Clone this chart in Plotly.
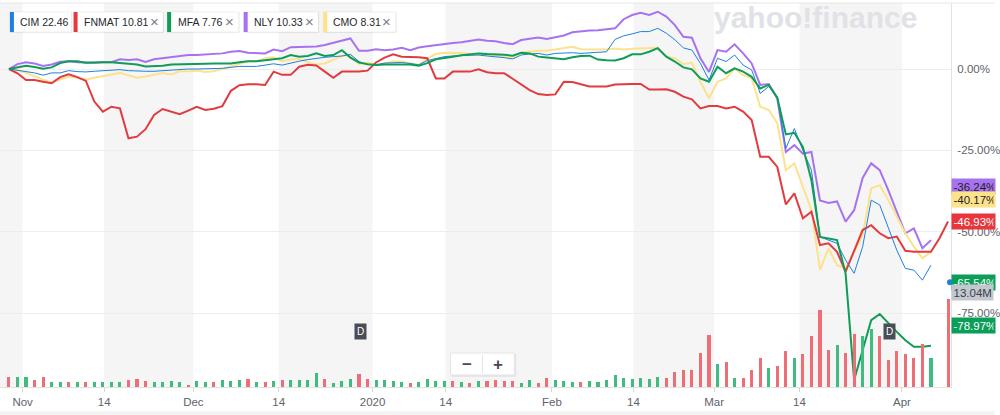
import plotly.graph_objects as go
import pandas as pd

# ---------------- data ----------------
HOLIDAYS = ["2019-11-28", "2019-12-25", "2020-01-01", "2020-01-20", "2020-02-17"]
DATES = [d.strftime("%Y-%m-%d") for d in pd.bdate_range("2019-10-30", "2020-04-08")
         if d.strftime("%Y-%m-%d") not in HOLIDAYS]

TICK_DATES = ["2019-11-01", "2019-11-14", "2019-12-01", "2019-12-14", "2020-01-01", "2020-01-14",
              "2020-02-01", "2020-02-14", "2020-03-01", "2020-03-14", "2020-04-01"]
TICK_TEXT = ["Nov", "14", "Dec", "14", "2020", "14", "Feb", "14", "Mar", "14", "Apr"]

Y_TICKS = [0, -25, -50, -75]
Y_TICK_TEXT = ["0.00%", "-25.00%", "-50.00%", "-75.00%"]

CIM = [0, -0.4, -0.7, -1.2, -1.9, -1.2, -1.2, -0.5, -0.8, -0.9,
       -0.7, -0.5, -0.4, -0.2, -0.5, -0.7, -0.7, -0.7, -0.5, -0.2,
       -0.2, 0.0, 0.0, 0.0, 0.2, 0.2, 0.5, 0.8, 0.8, 0.8,
       1.2, 1.6, 1.2, 1.9, 2.4, 2.9, 3.3, 3.6, 3.8, 4.0,
       4.5, 2.3, 1.3, 1.3, 1.8, 2.0, 2.0, 1.7, 1.3, 2.6,
       3.3, 3.8, 4.0, 4.1, 4.3, 4.3, 4.0, 3.8, 3.5, 3.1,
       4.3, 4.6, 4.8, 4.3, 4.8, 4.9, 5.0, 4.8, 5.0, 5.1,
       5.3, 9.1, 10.2, 10.8, 11.5, 11.5, 12.5, 11.0, 9.0, 6.5,
       5.8, 1.7, -3.4, 3.3, 2.3, 4.3, 1.2, -0.3, -7.5, -5.4,
       -8.5, -24.4, -18.3, -25.0, -31.1, -51.6, -52.6, -53.6, -58.7, -62.8,
       -54.6, -40.3, -41.8, -48.5, -55.7, -61.3, -61.8, -64.9, -60.3]

FNMAT = [0, -1.3, -3.4, -3.4, -3.9, -4.4, -2.5, -1.6, -2.5, -3.6,
         -10.0, -13.1, -11.6, -12.1, -21.3, -20.8, -18.5, -14.1, -12.3, -13.1,
         -13.9, -12.8, -11.6, -12.6, -12.2, -11.4, -6.7, -5.0, -4.7, -4.7,
         -4.9, -0.8, -1.8, -1.8, 0.7, 1.3, 1.1, -0.8, -2.7, -0.8,
         -0.8, -0.8, -0.5, 2.0, 3.5, 4.5, 3.8, 3.8, 3.6, 3.3,
         -2.9, -2.9, -0.8, -0.8, -0.8, -0.1, -1.0, -1.3, -1.3, -3.0,
         -4.8, -6.5, -7.7, -8.0, -7.8, -3.9, -4.0, -4.7, -5.4, -5.4,
         -5.4, -4.8, -4.6, -4.6, -4.6, -6.3, -6.3, -6.2, -7.0, -8.5,
         -9.3, -12.1, -11.4, -11.4, -12.1, -11.6, -13.1, -15.7, -27.0, -27.0,
         -30.1, -41.6, -38.2, -45.9, -43.9, -54.1, -53.6, -56.2, -62.3, -55.7,
         -49.5, -48.0, -50.5, -52.0, -51.5, -55.9, -56.2, -56.2, -56.2, -52.0, -46.9]

MFA = [0, 0.5, 1.0, 0.6, 0.1, 0.5, 1.8, 2.4, 2.4, 1.9,
       2.1, 2.1, 2.1, 1.8, 1.6, 1.4, 0.8, 0.8, 1.0, 1.4,
       1.4, 1.6, 1.4, 1.6, 1.7, 1.8, 1.7, 2.1, 2.4, 2.4,
       2.8, 3.0, 3.3, 4.3, 3.8, 4.0, 4.8, 4.0, 4.3, 5.8,
       3.5, 2.0, 1.5, 1.2, 1.4, 1.4, 1.4, 1.4, 1.0, 1.8,
       3.0, 3.5, 3.8, 4.2, 4.6, 4.8, 4.6, 4.6, 4.4, 4.1,
       5.0, 4.8, 3.8, 3.5, 3.3, 3.0, 3.6, 4.0, 4.1, 2.9,
       2.7, 2.6, 3.3, 4.5, 4.5, 5.3, 6.4, 3.8, 2.3, 0.5,
       -0.1, -2.9, -3.9, 0.7, -1.3, 0.2, -0.8, -2.4, -6.0, -4.9,
       -8.8, -20.1, -19.6, -24.0, -34.2, -51.6, -52.1, -52.6, -62.8, -95.6,
       -86.4, -77.2, -75.3, -78.2, -80.8, -83.4, -85.4, -85.4, -85.1]

NLY = [0, 1.5, 2.1, 1.7, 0.9, 1.4, 2.2, 2.4, 2.1, 1.9,
       1.9, 2.1, 2.1, 3.0, 2.8, 3.0, 2.2, 3.0, 3.3, 3.6,
       4.0, 4.3, 4.3, 4.5, 4.5, 4.8, 5.3, 5.5, 5.0, 5.0,
       4.8, 6.0, 5.5, 6.7, 6.7, 6.7, 6.9, 7.4, 8.1, 8.9,
       9.4, 5.6, 5.6, 6.1, 5.8, 6.0, 6.5, 5.8, 6.6, 7.0,
       7.4, 7.7, 8.0, 8.2, 8.7, 9.1, 8.7, 8.5, 8.0, 7.6,
       8.9, 9.4, 9.7, 9.2, 9.8, 10.3, 11.3, 11.6, 11.8, 11.9,
       12.1, 12.5, 15.3, 16.6, 17.3, 16.6, 17.6, 16.1, 13.5, 9.9,
       9.6, 3.3, -0.9, 5.8, 5.3, 7.6, 4.8, 1.7, -4.9, -4.6,
       -9.1, -25.5, -23.4, -26.0, -25.5, -40.4, -41.2, -40.7, -46.9, -43.4,
       -33.5, -29.0, -31.1, -37.2, -43.9, -50.5, -49.0, -55.1, -52.6]

CMO = [0, -0.4, -1.2, -2.3, -3.3, -4.1, -3.1, -2.3, -2.7, -3.3,
       -2.7, -2.3, -1.7, -1.2, -2.0, -2.7, -2.3, -1.7, -1.2, -1.7,
       -0.7, -0.7, -0.5, -0.9, -0.7, 0.0, 0.8, 1.8, 2.4, 2.4,
       3.3, 3.6, 2.4, 2.9, 3.1, 2.1, 1.4, 1.7, 2.9, 4.0,
       4.3, 1.5, 2.0, 1.2, 1.8, 2.3, 2.3, 1.8, 1.2, 3.2,
       4.6, 5.0, 5.0, 4.9, 4.6, 4.3, 4.3, 4.2, 3.8, 3.5,
       5.1, 5.4, 5.6, 5.6, 6.0, 6.4, 6.8, 6.1, 6.0, 6.0,
       6.0, 6.3, 6.0, 6.2, 6.3, 6.5, 6.5, 3.8, 3.3, 1.5,
       1.9, -4.0, -9.0, -3.9, -2.9, 0.2, -1.9, -2.9, -11.6, -12.6,
       -16.7, -31.1, -29.0, -36.2, -43.4, -61.8, -55.1, -60.3, -61.3, -56.2,
       -51.0, -36.7, -35.7, -40.3, -45.4, -50.5, -54.6, -58.2, -56.2]

# CIM volume, millions of shares; 1 = up day (green), 0 = down day (red)
VOLUME_M = [1.48, 1.41, 1.48, 1.11, 1.48, 0.81, 0.67, 0.67, 0.67, 0.67,
            0.67, 0.67, 0.67, 0.81, 1.11, 1.26, 0.96, 0.81, 0.81, 0.96,
            0.81, 0.37, 0.96, 0.81, 0.81, 1.11, 0.96, 1.11, 1.26, 0.67,
            0.81, 0.96, 1.11, 1.11, 1.11, 1.11, 2.07, 1.26, 0.59, 0.96,
            1.26, 2.00, 1.26, 1.08, 1.11, 0.93, 0.70, 0.62, 0.81, 1.16,
            0.86, 0.96, 0.96, 0.81, 0.62, 0.93, 0.96, 0.99, 0.84, 0.84,
            0.64, 0.99, 0.64, 1.33, 0.99, 0.89, 0.74, 0.74, 0.89, 0.74,
            1.04, 1.78, 1.33, 1.19, 1.33, 1.19, 1.48, 1.33, 2.22, 2.47,
            2.47, 5.04, 7.70, 3.41, 3.70, 1.33, 1.33, 2.52, 4.30, 2.81,
            3.11, 5.33, 4.30, 4.89, 7.56, 11.41, 5.48, 6.22, 5.04, 7.85,
            7.56, 8.59, 7.56, 4.00, 5.33, 4.89, 4.30, 6.37, 4.30, None, 13.04]
VOLUME_UP = [0, 1, 1, 0, 0, 1, 1, 0, 1, 0,
             1, 1, 1, 1, 0, 0, 0, 1, 1, 1,
             1, 0, 1, 1, 0, 1, 1, 1, 0, 1,
             0, 1, 0, 1, 1, 1, 1, 0, 1, 1,
             1, 0, 0, 1, 1, 1, 1, 0, 1, 1,
             1, 1, 0, 1, 0, 1, 0, 0, 0, 0,
             1, 1, 0, 0, 1, 1, 1, 0, 1, 1,
             1, 1, 1, 1, 1, 1, 1, 0, 0, 0,
             0, 0, 0, 1, 0, 1, 0, 0, 0, 1,
             0, 0, 1, 0, 0, 0, 0, 1, 0, 0,
             1, 1, 0, 0, 0, 0, 0, 0, 1, 0, 0]

LEGEND_SYMBOLS = ["CIM", "FNMAT", "MFA", "NLY", "CMO"]
LEGEND_PRICES = ["22.46", "10.81", "7.76", "10.33", "8.31"]

TAG_VALUES = {"NLY": -36.24, "CMO": -40.17, "FNMAT": -46.93, "CIM": -65.54, "MFA": -78.97}
TAG_VOLUME_M = 13.04
DIVIDEND_DATES = ["2019-12-30", "2020-03-30"]

# ---------------- styling ----------------
FONT = "Liberation Sans, Arial, sans-serif"
C_CIM, C_FNMAT, C_MFA, C_NLY, C_CMO = "#1E80E0", "#E23B3F", "#0E9C57", "#A772F0", "#FDE28C"
C_UP, C_DOWN = "#40BC80", "#EF6E76"
GREY_BAND = "#F5F5F5"

W, H = 1000, 415
L, R, T, B = 0, 44, 3, 28
PW, PH = W - L - R, H - T - B
PX_PER_IDX = 8.582
X0_PX = 9.0


def px_x(x):
    return (x - L) / PW


def px_y(y):
    return (T + PH - y) / PH


IDX = list(range(len(DATES)))
pos = {d: i for i, d in enumerate(DATES)}


def tick_pos(d):
    first = next(i for i, dd in enumerate(DATES) if dd >= d)
    if d[-2:] == "01" or d not in pos:
        return first - 0.4
    return first + 0.15


TICK_VALS = [tick_pos(d) for d in TICK_DATES]
x_range = [-X0_PX / PX_PER_IDX, (PW - X0_PX) / PX_PER_IDX]
y_range = [-(387 - 69) / 3.2533, (69 - 3) / 3.2533]

fig = go.Figure()

fig.add_trace(go.Bar(
    x=IDX, y=VOLUME_M, yaxis="y2", width=0.36,
    marker=dict(color=[C_UP if u else C_DOWN for u in VOLUME_UP], line_width=0),
    showlegend=False, hoverinfo="skip"))

for name, vals, col, w in [("NLY", NLY, C_NLY, 2), ("CMO", CMO, C_CMO, 2),
                           ("FNMAT", FNMAT, C_FNMAT, 2), ("CIM", CIM, C_CIM, 1),
                           ("MFA", MFA, C_MFA, 2)]:
    fig.add_trace(go.Scatter(x=IDX[:len(vals)], y=vals, mode="lines", name=name,
                             line=dict(color=col, width=w), showlegend=False))

shapes = []
annotations = []
# alternating bands between ticks
bounds = [x_range[0]] + TICK_VALS + [x_range[1]]
for k in range(0, len(bounds) - 1, 2):
    shapes.append(dict(type="rect", xref="x", yref="paper", x0=bounds[k], x1=bounds[k + 1],
                       y0=0, y1=1, fillcolor=GREY_BAND, line_width=0, layer="below"))
# top border and bottom strip
shapes.append(dict(type="line", xref="paper", yref="paper", x0=0, x1=W / PW, y0=1, y1=1,
                   line=dict(color="#E6E6E6", width=1)))
shapes.append(dict(type="rect", xref="paper", yref="paper", x0=0, x1=W / PW,
                   y0=px_y(415), y1=px_y(411), fillcolor="#F4F4F4", line_width=0))

# watermark (drawn first so other annotations sit above)
annotations.append(dict(xref="paper", yref="paper", x=px_x(820), y=px_y(17),
                        xanchor="center", yanchor="middle", showarrow=False,
                        text="<b>yahoo!finance</b>",
                        font=dict(family=FONT, size=30, color="#E0E2E7")))

# legend chips
chip_geo = [(10, 72, 18), (74, 164, 82), (168, 240, 177), (245, 320, 253), (325, 398, 333)]
chip_cols = [C_CIM, C_FNMAT, C_MFA, C_NLY, C_CMO]
for k, ((x0, x1, tx), col) in enumerate(zip(chip_geo, chip_cols)):
    shapes.append(dict(type="rect", xref="paper", yref="paper", x0=px_x(x0), x1=px_x(x1 + 1),
                       y0=px_y(33), y1=px_y(12), fillcolor="rgba(0,0,0,0.05)", line_width=0))
    shapes.append(dict(type="rect", xref="paper", yref="paper", x0=px_x(x0), x1=px_x(x1),
                       y0=px_y(32), y1=px_y(12), fillcolor="white",
                       line=dict(color="rgba(0,0,0,0.06)", width=1)))
    shapes.append(dict(type="rect", xref="paper", yref="paper", x0=px_x(x0), x1=px_x(x0 + 4),
                       y0=px_y(32), y1=px_y(12), fillcolor=col, line_width=0))
    annotations.append(dict(xref="paper", yref="paper", x=px_x(tx), y=px_y(22), xanchor="left",
                            yanchor="middle", showarrow=False,
                            text=f"{LEGEND_SYMBOLS[k]} {LEGEND_PRICES[k]}",
                            font=dict(family=FONT, size=10.5, color="#26282C")))
    if k > 0:
        annotations.append(dict(xref="paper", yref="paper", x=px_x(x1 - 9), y=px_y(22),
                                xanchor="center", yanchor="middle", showarrow=False, text="×",
                                font=dict(family=FONT, size=15, color="#7A7E85")))

# zoom buttons
shapes.append(dict(type="rect", xref="paper", yref="paper", x0=px_x(454), x1=px_x(519),
                   y0=px_y(377), y1=px_y(354), fillcolor="rgba(0,0,0,0.06)", line_width=0))
shapes.append(dict(type="rect", xref="paper", yref="paper", x0=px_x(453), x1=px_x(517),
                   y0=px_y(375), y1=px_y(353), fillcolor="white",
                   line=dict(color="#E4E4E4", width=1)))
shapes.append(dict(type="line", xref="paper", yref="paper", x0=px_x(485), x1=px_x(485),
                   y0=px_y(373), y1=px_y(355), line=dict(color="#E4E4E4", width=1)))
annotations.append(dict(xref="paper", yref="paper", x=px_x(469), y=px_y(364),
                        xanchor="center", yanchor="middle", showarrow=False,
                        text="<b>−</b>", font=dict(family=FONT, size=17, color="#464B55")))
annotations.append(dict(xref="paper", yref="paper", x=px_x(501), y=px_y(364),
                        xanchor="center", yanchor="middle", showarrow=False,
                        text="<b>+</b>", font=dict(family=FONT, size=17, color="#464B55")))

# dividend markers
for d in DIVIDEND_DATES:
    annotations.append(dict(xref="x", yref="paper", x=pos[d] + 0.2, y=px_y(331.5),
                            xanchor="center", yanchor="middle", showarrow=False,
                            text="D", bgcolor="#484D56", borderpad=2,
                            font=dict(family=FONT, size=10, color="white")))

# right-side value tags
tag_style = {"NLY": (C_NLY, "#1E1E1E"), "CMO": (C_CMO, "#1E1E1E"), "FNMAT": ("#E8363C", "white"),
             "CIM": ("#0A9E58", "white"), "MFA": ("#0A9E58", "white")}
shapes.append(dict(type="circle", xref="paper", yref="y", x0=px_x(952), x1=px_x(958),
                   y0=TAG_VALUES["CIM"] - 0.92, y1=TAG_VALUES["CIM"] + 0.92,
                   fillcolor=C_CIM, line_width=0))
for name in ["NLY", "CMO", "FNMAT", "CIM"]:
    bg, fg = tag_style[name]
    annotations.append(dict(xref="paper", yref="y", x=px_x(956), y=TAG_VALUES[name],
                            xanchor="left", yanchor="middle", showarrow=False,
                            text=f"{TAG_VALUES[name]:.2f}%", bgcolor=bg, borderpad=1.5,
                            width=40, align="left",
                            font=dict(family=FONT, size=11.5, color=fg)))
annotations.append(dict(xref="paper", yref="y2", x=px_x(956), y=TAG_VOLUME_M, yshift=6,
                        xanchor="left", yanchor="middle", showarrow=False,
                        text=f"{TAG_VOLUME_M:.2f}M", bgcolor="#C4C8CE", borderpad=1.5,
                        width=38, align="left", font=dict(family=FONT, size=11.5, color="#3A3F47")))
bg, fg = tag_style["MFA"]
annotations.append(dict(xref="paper", yref="y", x=px_x(956), y=TAG_VALUES["MFA"],
                        xanchor="left", yanchor="middle", showarrow=False,
                        text=f"{TAG_VALUES['MFA']:.2f}%", bgcolor=bg, borderpad=1.5,
                        width=40, align="left", font=dict(family=FONT, size=11.5, color=fg)))

fig.update_layout(
    width=W, height=H, margin=dict(l=L, r=R, t=T, b=B),
    paper_bgcolor="white", plot_bgcolor="white",
    font=dict(family=FONT, size=11, color="#5E636B"),
    bargap=0, showlegend=False, hovermode=False,
    xaxis=dict(range=x_range, tickmode="array", tickvals=TICK_VALS, ticktext=TICK_TEXT,
               showgrid=False, zeroline=False, showline=True, linecolor="#E2E2E2",
               ticks="outside", ticklen=4, tickcolor="#D6D6D6",
               tickfont=dict(family=FONT, size=11.5, color="#5E636B")),
    yaxis=dict(range=y_range, side="right", tickmode="array", tickvals=Y_TICKS,
               ticktext=Y_TICK_TEXT, showgrid=True, gridcolor="#EDEDED", zeroline=False,
               showline=True, linecolor="#E2E2E2", ticks="outside", ticklen=3,
               tickcolor="rgba(0,0,0,0)",
               tickfont=dict(family=FONT, size=11.5, color="#5E636B")),
    yaxis2=dict(range=[0, PH / 6.75], overlaying="y", visible=False),
    shapes=shapes, annotations=annotations,
)

fig.write_html("out.html")
